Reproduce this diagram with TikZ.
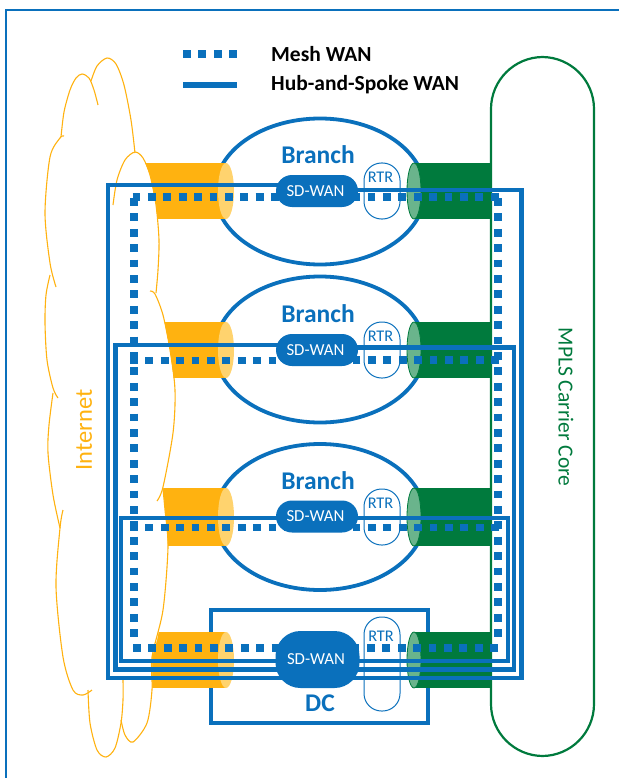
\documentclass[tikz,border=0pt]{standalone}
\usepackage{fontspec}
\setmainfont{Carlito}
\usetikzlibrary{shapes.geometric}
\pgfdeclarelayer{front}
\pgfsetlayers{main,front}
\definecolor{wanblue}{HTML}{0A70BC}
\definecolor{cgreen}{HTML}{007A3D}
\definecolor{lgreen}{HTML}{6AB48C}
\definecolor{corange}{HTML}{FFB210}
\definecolor{lorange}{HTML}{FFD36E}
\tikzset{
  site/.style={ellipse,draw=wanblue,line width=3.8pt,fill=white,minimum width=210pt,minimum height=146pt,inner sep=0pt},
  sitetext/.style={text=wanblue,font=\fontsize{25.5}{27}\selectfont\bfseries,inner sep=0pt},
  sdwan/.style={fill=wanblue,text=white,rounded corners=16pt,minimum width=82pt,minimum height=32pt,inner sep=0pt,font=\fontsize{16.8}{18}\selectfont,execute at begin node=\kern-3pt},
  sdwanbig/.style={sdwan,minimum width=84pt,minimum height=57pt,rounded corners=25pt},
  rtrbox/.style={draw=wanblue,line width=1pt,rounded corners=17.5pt,minimum width=36pt,minimum height=56pt,inner sep=0pt},
  rtrtext/.style={text=wanblue,font=\fontsize{16.3}{18}\selectfont,inner sep=0pt},
  hub/.style={draw=wanblue,line width=4.1pt,line join=miter},
  mesh/.style={draw=wanblue,line width=7.8pt,dash pattern=on 7.8pt off 7.6pt},
  cloudline/.style={draw=corange,line width=1.1pt},
  capo/.style={ellipse,fill=lorange,minimum width=16pt,inner sep=0pt},
  capg/.style={ellipse,fill=lgreen,draw=cgreen,line width=.8pt,minimum width=14pt,inner sep=0pt},
  legendtext/.style={anchor=west,font=\fontsize{21.5}{23}\selectfont\bfseries,inner sep=0pt}
}
\begin{document}
\begin{tikzpicture}[x=1pt,y=-1pt]
\useasboundingbox (0,0) rectangle (619,778);
% frame
\draw[wanblue,line width=2pt] (6,778) -- (6,10) -- (619,10);
% MPLS core
\node[draw=cgreen,line width=2.2pt,fill=white,rounded corners=52pt,minimum width=103pt,minimum height=699pt,inner sep=0pt] (mpls) at (542.5,406.5) {};
\node[rotate=-90,text=cgreen,font=\fontsize{21.5}{23}\selectfont,inner sep=0pt] (mplst) at (566,407) {MPLS Carrier Core};
% sites
\node[site] (b1) at (320,191.5) {};
\node[site] (b2) at (320,349.5) {};
\node[site] (b3) at (320,517) {};
\node[draw=wanblue,line width=3.8pt,fill=white,minimum width=217pt,minimum height=113pt,inner sep=0pt] (dcbox) at (319.5,666.5) {};
% tunnels
\foreach \y/\h in {191/56,350/56,517/58,660/56}{
  \fill[corange] (130,\y-\h/2) rectangle (226,\y+\h/2);
  \node[capo,minimum height=\h pt] at (226,\y) {};
  \fill[cgreen] (414,\y-\h/2) rectangle (492,\y+\h/2);
  \node[capg,minimum height=\h pt] at (414,\y) {};
}
% cloud
\fill[white] (61,137) -- (64,112) -- (70,90) -- (76,78) -- (82,74) -- (91,81) -- (97,66) -- (107,58) -- (116,64) -- (124,85) -- (131,120) -- (135,152) -- (143,158) -- (150,175) -- (156,205) -- (159,240) -- (158,270) -- (156,293) -- (163,315) -- (170,350) -- (175,390) -- (175,410) -- (173,433) -- (167,470) -- (163,489) -- (165,510) -- (168,547) -- (166,575) -- (163,610) -- (157,640) -- (152,657) -- (152,690) -- (147,723) -- (141,735) -- (133,742) -- (125,735) -- (121,723) -- (115,748) -- (106,757) -- (97,750) -- (90,723) -- (88,693) -- (83,695) -- (73,690) -- (63,657) -- (57,620) -- (56,587) -- (60,528) -- (53,495) -- (48,453) -- (49,425) -- (53,393) -- (47,360) -- (45,323) -- (46,295) -- (50,275) -- (46,240) -- (45,213) -- (47,180) -- (50,157) -- cycle;
\draw[cloudline] plot[smooth] coordinates {(61,137)(64,112)(70,90)(76,78)(82,74)(89,78)(94,90)(98,105)};
\draw[cloudline] plot[smooth] coordinates {(91,81)(97,66)(107,58)(116,64)(124,85)(131,120)(135,153)};
\draw[cloudline] plot[smooth] coordinates {(113,205)(117,180)(125,160)(135,152)(143,158)(150,175)(156,205)(159,240)(158,270)(156,293)};
\draw[cloudline] plot[smooth] coordinates {(150,291)(155,294)(163,315)(170,350)(175,390)(173,433)(163,487)(157,501)};
\draw[cloudline] plot[smooth] coordinates {(163,489)(165,510)(168,547)(163,610)(152,657)(152,690)(147,723)(133,742)(125,735)(121,720)};
\draw[cloudline] plot[smooth] coordinates {(123,680)(123,700)(121,723)(115,748)(106,757)(97,750)(90,723)(88,690)};
\draw[cloudline] plot[smooth] coordinates {(92,690)(83,695)(73,690)(63,657)(56,587)(60,528)(63,510)};
\draw[cloudline] plot[smooth] coordinates {(60,528)(53,495)(48,453)(49,425)(53,393)};
\draw[cloudline] plot[smooth] coordinates {(58,398)(53,388)(47,360)(45,323)(46,295)(50,275)};
\draw[cloudline] plot[smooth] coordinates {(56,287)(50,263)(45,213)(50,157)(60,138)(64,136)};
\node[rotate=90,text=corange,font=\fontsize{24.5}{26}\selectfont,inner sep=0pt] (inet) at (84,430) {Internet};
% site labels
\node[sitetext] (b1t) at (318,155) {Branch};
\node[sitetext] (b2t) at (318,314) {Branch};
\node[sitetext] (b3t) at (318,481) {Branch};
\node[sitetext] (dct) at (320,703) {DC};
% routers
\node[rtrbox] (r1) at (382,191) {};
\node[rtrbox] (r2) at (382,350) {};
\node[rtrbox] (r3) at (382,517) {};
\node[rtrbox,minimum height=94pt] (r4) at (382,664) {};
\node[rtrtext] (r1t) at (380.5,177) {RTR};
\node[rtrtext] (r2t) at (380.5,336) {RTR};
\node[rtrtext] (r3t) at (380.5,503) {RTR};
\node[rtrtext] (r4t) at (381,636) {RTR};
% SD-WAN boxes sit above the connectors
\begin{pgfonlayer}{front}
\node[sdwan] (s1) at (317,191) {SD-WAN};
\node[sdwan] (s2) at (317,350) {SD-WAN};
\node[sdwan] (s3) at (317,516.5) {SD-WAN};
\node[sdwanbig] (s4) at (317.5,659.5) {SD-WAN};
\end{pgfonlayer}
% corners of the loops
\coordinate (c1) at (108,678);
\coordinate (c2) at (115.5,669.5);
\coordinate (c3) at (121,661);
\coordinate (d1) at (521.5,678);
\coordinate (d2) at (514,669.5);
\coordinate (d3) at (508,661);
% hub-and-spoke
\draw[hub] (s1.center |- 0,185) -| (c1) -- (s4.center |- c1);
\draw[hub] (s1.center |- 0,190) -| (d1) -- (s4.center |- d1);
\draw[hub] (s2.center |- 0,345) -| (c2) -- (s4.center |- c2);
\draw[hub] (s2.center |- 0,347.5) -| (d2) -- (s4.center |- d2);
\draw[hub] (s3.center |- 0,518) -| (c3) -- (s4.center |- c3);
\draw[hub] (s3.center |- 0,518) -| (d3) -- (s4.center |- d3);
% mesh
\coordinate (m1) at (134,198);
\coordinate (m2) at (134,640);
\coordinate (m3) at (498,198);
\coordinate (m4) at (498,640);
\draw[mesh] (m1) -- (m2);
\draw[mesh] (m3) -- (m4);
\draw[mesh] (132.5,197) -- (s1.center |- 0,197);
\draw[mesh] (498.5,197) -- (s1.center |- 0,197);
\draw[mesh] (130,360.5) -- (s2.center |- 0,360.5);
\draw[mesh] (499,360) -- (s2.center |- 0,360);
\draw[mesh] (130,527.5) -- (s3.center |- 0,527.5);
\draw[mesh] (499,527.5) -- (s3.center |- 0,527.5);
\draw[mesh] (133,648) -- (s4.center |- 0,648);
\draw[mesh] (498,648) -- (s4.center |- 0,648);
% legend
\coordinate (la) at (183,54);
\coordinate (lb) at (237,54);
\coordinate (lc) at (183,85);
\coordinate (ld) at (237,85);
\draw[mesh] (la) -- (lb);
\draw[wanblue,line width=5.2pt] (lc) -- (ld);
\node[legendtext] (lt1) at (271,54) {Mesh WAN};
\node[legendtext] (lt2) at (271,85) {Hub-and-Spoke WAN};
\end{tikzpicture}
\end{document}
